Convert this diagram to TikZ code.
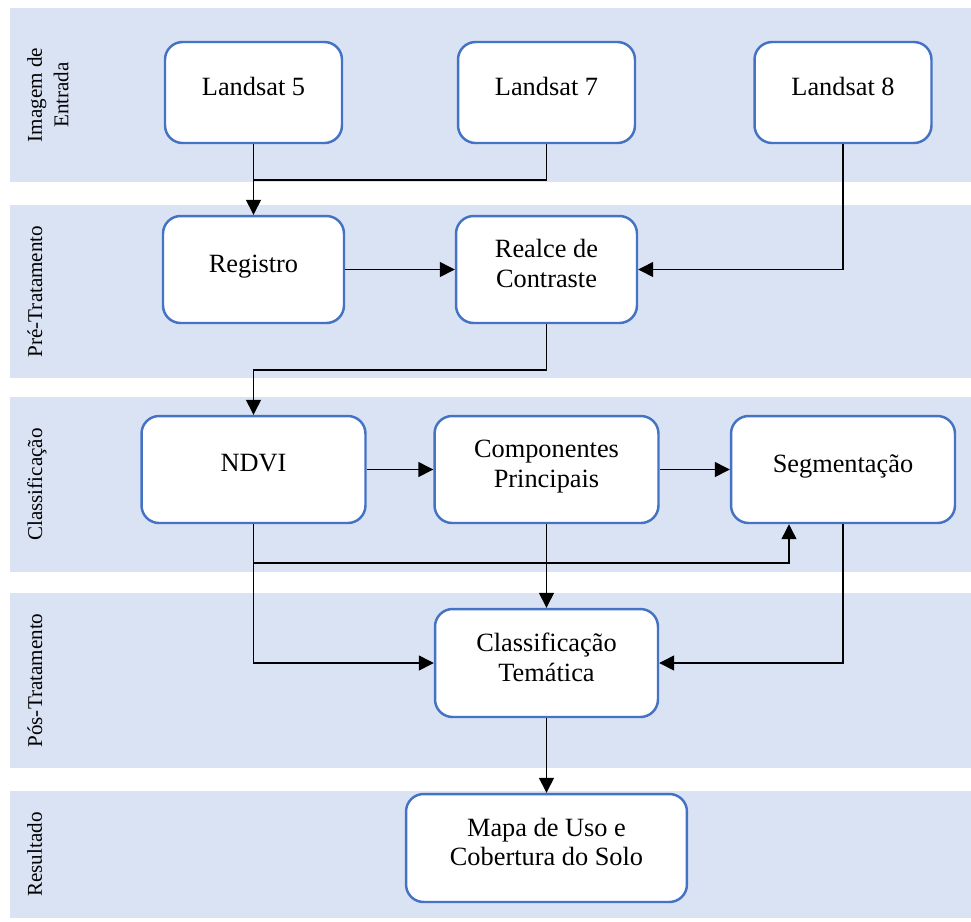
\documentclass[tikz,border=0pt]{standalone}
\usepackage{fontspec}
\setmainfont{Liberation Serif}
\usetikzlibrary{arrows.meta}
\definecolor{bandblue}{HTML}{DAE3F3}
\definecolor{boxblue}{HTML}{4472C4}

\begin{document}
\begin{tikzpicture}[
	x=0.02cm, y=-0.02cm,
	stage/.style={rotate=90, anchor=north, inner sep=0pt, align=center, font=\fontsize{12}{15}\selectfont},
	proc/.style={draw=boxblue, line width=1.4pt, fill=white, rounded corners=10pt, align=center,
		font=\fontsize{15}{17}\selectfont, text depth=7pt},
	edge/.style={-, line width=0.8pt},
	arr/.style={-{Triangle[length=8.5pt,width=8.5pt]}, line width=0.8pt}
	]
	\def\colA{253.5}
	\def\colB{546.5}
	\def\colC{843}
	\useasboundingbox (0,0) rectangle (971,921);
	
	% faixas
	\fill[bandblue] (10,8) rectangle (971,182);
	\fill[bandblue] (10,205) rectangle (971,378);
	\fill[bandblue] (10,397) rectangle (971,572);
	\fill[bandblue] (10,593) rectangle (971,768);
	\fill[bandblue] (10,791) rectangle (971,918);
	
	\node[stage] (s1) at (27,95) {Imagem de\\Entrada};
	\node[stage] (s2) at (27,291.5) {Pré-Tratamento};
	\node[stage] (s3) at (27,484.5) {Classificação};
	\node[stage] (s4) at (27,680.5) {Pós-Tratamento};
	\node[stage] (s5) at (27,854.5) {Resultado};
	
	\node[proc, minimum width=3.54cm, minimum height=2.02cm] (l5) at (\colA,92.5) {Landsat 5};
	\node[proc, minimum width=3.54cm, minimum height=2.02cm] (l7) at (\colB,92.5) {Landsat 7};
	\node[proc, minimum width=3.54cm, minimum height=2.02cm] (l8) at (\colC,92.5) {Landsat 8};
	
	\node[proc, minimum width=3.62cm, minimum height=2.14cm] (reg) at (\colA,269.5) {Registro};
	\node[proc, minimum width=3.62cm, minimum height=2.14cm] (realce) at (\colB,269.5) {Realce de\\Contraste};
	
	\node[proc, minimum width=4.48cm, minimum height=2.14cm] (ndvi) at (\colA,469.5) {NDVI};
	\node[proc, minimum width=4.48cm, minimum height=2.14cm] (comp) at (\colB,469.5) {Componentes\\Principais};
	\node[proc, minimum width=4.48cm, minimum height=2.14cm] (seg) at (\colC,469.5) {Segmentação};
	
	\node[proc, minimum width=4.46cm, minimum height=2.16cm] (ct) at (\colB,663) {Classificação\\Temática};
	\node[proc, minimum width=5.62cm, minimum height=2.16cm] (mapa) at (\colB,848) {Mapa de Uso e\\Cobertura do Solo};
	
	\coordinate (j1) at (\colA,180);
	\coordinate (j2) at (\colB,370);
	\coordinate (j3) at (789,563);
	
	\draw[arr] (l5.south) -- (reg.north);
	\draw[edge] (l7.south) |- (j1);
	\draw[arr] (l8.south) |- (realce.east);
	\draw[arr] (reg) -- (realce);
	\draw[arr] (realce.south) -- (j2) -| (ndvi.north);
	\draw[arr] (ndvi) -- (comp);
	\draw[arr] (comp) -- (seg);
	\draw[arr] (ndvi.south) |- (j3) -- (j3 |- seg.south);
	\draw[arr] (ndvi.south) |- (ct.west);
	\draw[arr] (comp) -- (ct);
	\draw[arr] (seg.south) |- (ct.east);
	\draw[arr] (ct) -- (mapa);
\end{tikzpicture}
\end{document}
